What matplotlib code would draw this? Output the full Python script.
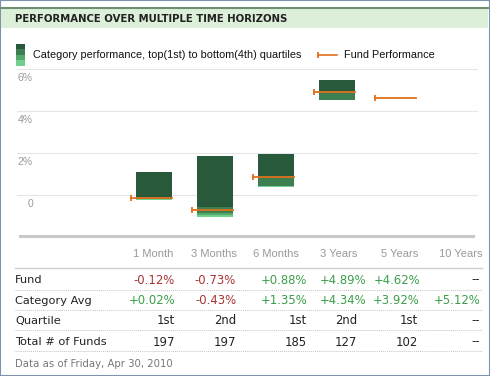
import matplotlib.pyplot as plt
from matplotlib.lines import Line2D
from matplotlib.patches import Rectangle

# data
periods = ['1 Month', '3 Months', '6 Months', '3 Years', '5 Years', '10 Years']
fund = [-0.12, -0.73, 0.88, 4.89, 4.62, None]
cat_avg = [0.02, -0.43, 1.35, 4.34, 3.92, 5.12]
quartile = ['1st', '2nd', '1st', '2nd', '1st', '--']
total_funds = ['197', '197', '185', '127', '102', '--']

# category quartile band edges (top of 1st quartile down to bottom of 4th)
cat_high = [1.08, 1.84, 1.97, 5.46]
q1_low = [-0.15, -0.58, 0.85, 4.95]
q2_low = [-0.18, -0.84, 0.42, 4.53]
q3_low = [-0.21, -0.93, 0.41, 4.52]
cat_low = [-0.25, -1.06, 0.40, 4.51]

band_colors = ['#28593a', '#3d7f50', '#55a96c', '#72cf8c']
orange = '#e0701c'

W, H = 490, 376
fig = plt.figure(figsize=(W / 100, H / 100), dpi=100)


def fx(x):
    return x / W


def fy(y):
    return 1 - y / H


# frame and title bar
fig.patches.append(Rectangle((0, 0), 1, 1, transform=fig.transFigure, fill=False,
                             edgecolor='#7d93ad', lw=1.5))
fig.patches.append(Rectangle((fx(1), fy(28)), fx(487), 20 / H, transform=fig.transFigure,
                             facecolor='#dcefd9', edgecolor='none'))
fig.lines.append(Line2D([fx(1), fx(488)], [fy(7.5), fy(7.5)], transform=fig.transFigure,
                        color='#6f8f72', lw=1.5))
fig.text(fx(15), fy(18.5), 'PERFORMANCE OVER MULTIPLE TIME HORIZONS', fontsize=7.3,
         fontweight='bold', color='#222222', va='center', family='DejaVu Sans')

# legend
for k, c in enumerate(band_colors):
    fig.patches.append(Rectangle((fx(16), fy(44 + 5.5 * (k + 1))), 9 / W, 5.5 / H,
                                 transform=fig.transFigure, facecolor=c, edgecolor='none'))
fig.text(fx(33), fy(55), 'Category performance, top(1st) to bottom(4th) quartiles',
         fontsize=7.8, family='Liberation Sans', va='center', color='#111111')
fig.lines.append(Line2D([fx(318), fx(337)], [fy(55), fy(55)], transform=fig.transFigure,
                        color=orange, lw=1.2))
fig.lines.append(Line2D([fx(318)], [fy(55)], transform=fig.transFigure, color=orange,
                        marker='|', ms=5, mew=1.3))
fig.text(fx(344), fy(55), 'Fund Performance', fontsize=7.8, family='Liberation Sans',
         va='center', color='#111111')

# chart axes
top_px, bot_px = 62, 236
ppu = 21.0
zero_px = 195
x0, step = 154, 61.0
ax_l, ax_r = 17, 478
ax = fig.add_axes([fx(ax_l), fy(bot_px), (ax_r - ax_l) / W, (bot_px - top_px) / H])
ax.set_ylim((zero_px - bot_px) / ppu, (zero_px - top_px) / ppu)
ax.set_xlim((ax_l - x0) / step, (ax_r - x0) / step)
ax.axis('off')

for v in [0, 2, 4, 6]:
    ax.axhline(v, color='#e6e6e6', lw=0.8, zorder=0)
    lab = '0' if v == 0 else f'{v}%'
    ax.annotate(lab, (0, v), xycoords=('axes fraction', 'data'), xytext=(16, -4),
                textcoords='offset pixels', ha='right', va='top', fontsize=7.5,
                color='#999999', family='Liberation Sans')

bw = 36 / step
edges = [cat_high, q1_low, q2_low, q3_low, cat_low]
for i in range(len(cat_high)):
    for k in range(4):
        ax.bar(i, edges[k][i] - edges[k + 1][i], bottom=edges[k + 1][i], width=bw,
               color=band_colors[k], lw=0, zorder=2)

for i, f in enumerate(fund):
    if f is None:
        continue
    ax.plot([i - 0.38, i + 0.30], [f, f], color=orange, lw=1.3, zorder=3)
    ax.plot([i - 0.38], [f], color=orange, marker='|', ms=5, mew=1.3, zorder=3)

# baseline under chart
fig.lines.append(Line2D([fx(20), fx(473)], [fy(236), fy(236)], transform=fig.transFigure,
                        color='#c8c8c8', lw=2.2))

# table
head_right = [173, 237, 299, 357, 418, 482]
pct_right = [175, 236, 307, 366, 420, 480]
txt_right = [175, 236, 307, 357, 418, 480]
header_y = 254
for p, xr in zip(periods, head_right):
    fig.text(fx(xr), fy(header_y), p, ha='right', va='center', fontsize=8,
             family='Liberation Sans', color='#999999')
fig.lines.append(Line2D([fx(15), fx(482)], [fy(268), fy(268)], transform=fig.transFigure,
                        color='#cccccc', lw=1))


def pct(v):
    if v is None:
        return '--', '#222222'
    s = f'{v:+.2f}%'
    return s, ('#a83232' if v < 0 else '#3a9e4a')


rows = [('Fund', [pct(v) for v in fund], pct_right),
        ('Category Avg', [pct(v) for v in cat_avg], pct_right),
        ('Quartile', [(q, '#222222') for q in quartile], txt_right),
        ('Total # of Funds', [(t, '#222222') for t in total_funds], txt_right)]
row_y = [280, 301, 321, 342]
sep_y = [289.5, 309.5, 330, 351]
for (name, cells, rights), y, sy in zip(rows, row_y, sep_y):
    fig.text(fx(15), fy(y), name, ha='left', va='center', fontsize=8.2,
             family='DejaVu Sans', color='#222222')
    for (txt, c), xr in zip(cells, rights):
        fig.text(fx(xr), fy(y), txt, ha='right', va='center', fontsize=8.4,
                 family='DejaVu Sans', color=c)
    fig.lines.append(Line2D([fx(15), fx(482)], [fy(sy), fy(sy)], transform=fig.transFigure,
                            color='#c4c4c4', lw=0.7, ls=(0, (1, 1))))

fig.text(fx(15), fy(364), 'Data as of Friday, Apr 30, 2010', ha='left', va='center',
         fontsize=7.3, family='DejaVu Sans', color='#777777')

fig.savefig('out.png', dpi=100, facecolor='white')
